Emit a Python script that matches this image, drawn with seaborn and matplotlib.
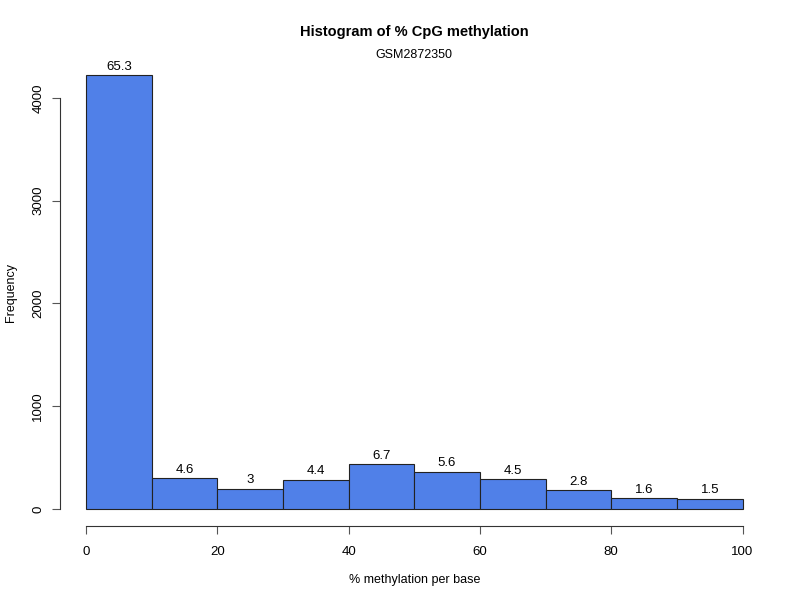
import matplotlib
matplotlib.use("Agg")
import matplotlib.pyplot as plt
import seaborn as sns
import numpy as np

bin_edges = [0, 10, 20, 30, 40, 50, 60, 70, 80, 90, 100]
counts = [4220, 297, 194, 284, 433, 362, 291, 181, 103, 97]
x_ticks = [0, 20, 40, 60, 80, 100]
y_ticks = [0, 1000, 2000, 3000, 4000]

sns.set_theme(style="white")
plt.rcParams['font.family'] = ['Liberation Sans', 'DejaVu Sans']
plt.rcParams['text.color'] = 'black'
plt.rcParams['axes.labelcolor'] = 'black'
plt.rcParams['xtick.color'] = 'black'
plt.rcParams['ytick.color'] = 'black'

centers = [(bin_edges[i] + bin_edges[i + 1]) / 2 for i in range(len(counts))]
total = sum(counts)
labels = ['%g' % round(c / total * 100, 1) for c in counts]

fig = plt.figure(figsize=(8, 6), dpi=100)
ax = fig.add_axes([0.0746, 0.1228, 0.961 - 0.0746, 0.9033 - 0.1228])

sns.histplot(x=centers, weights=counts, bins=bin_edges, ax=ax,
             color="#5080E8", alpha=1, edgecolor="#222222", linewidth=0.8)

for cx, c, lab in zip(centers, counts, labels):
    ax.text(cx, c + 25, lab, ha='center', va='bottom', fontsize=9.5, color='black')

ax.set_xlim(-4, 104)
ax.set_ylim(-0.04 * max(counts), max(counts) * 1.04)
ax.set_xticks(x_ticks)
ax.set_yticks(y_ticks)
for s in ['top', 'right']:
    ax.spines[s].set_visible(False)
ax.spines['left'].set_bounds(0, 4000)
ax.spines['bottom'].set_bounds(0, 100)
for s in ['left', 'bottom']:
    ax.spines[s].set_color('#333333')
    ax.spines[s].set_linewidth(0.8)
ax.tick_params(axis='both', which='both', direction='out', length=6, width=0.8,
               color='#555555', labelsize=9.5, labelcolor='black', pad=8, bottom=True, left=True)
ax.tick_params(axis='y', labelrotation=90, pad=5)
for lab in ax.get_yticklabels():
    lab.set_va('center')

ax.set_xlabel('% methylation per base', fontsize=9, labelpad=12, color='black')
ax.set_ylabel('Frequency', fontsize=9, color='black')
ax.yaxis.set_label_coords(-0.06, 0.5)

fig.text(0.5175, 0.947, 'Histogram of % CpG methylation', ha='center', va='center',
         fontsize=10.5, fontweight='bold', color='black')
fig.text(0.5175, 0.909, 'GSM2872350', ha='center', va='center', fontsize=9, color='black')

ax.grid(False)
fig.savefig('out.png', dpi=100)
